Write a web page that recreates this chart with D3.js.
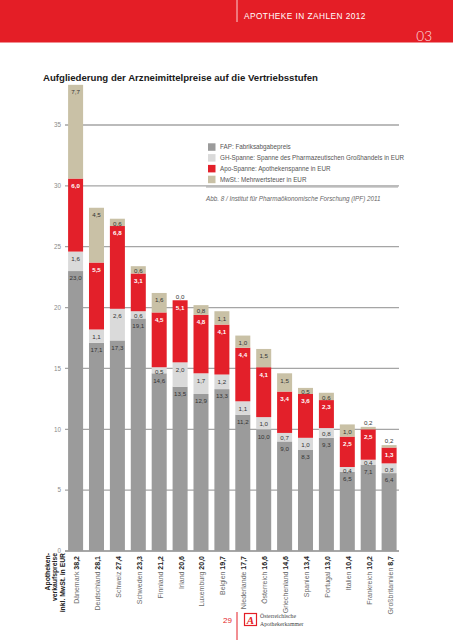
<!DOCTYPE html>
<html><head><meta charset="utf-8">
<script src="https://cdn.jsdelivr.net/npm/d3@7/dist/d3.min.js"></script>
<style>
html,body{margin:0;padding:0;background:#fff;}
svg{display:block;font-family:"Liberation Sans",Arial,Helvetica,sans-serif;}
</style></head>
<body>
<svg id="c" width="453" height="640"></svg>
<script>
const countries = ["Dänemark","Deutschland","Schweiz","Schweden","Finnland","Irland","Luxemburg","Belgien","Niederlande","Österreich","Griechenland","Spanien","Portugal","Italien","Frankreich","Großbritannien"];
const totals = ["38,2","28,1","27,4","23,3","21,2","20,6","20,0","19,7","17,7","16,6","14,6","13,4","13,0","10,4","10,2","8,7"];
const fap  = [23.0,17.1,17.3,19.1,14.6,13.5,12.9,13.3,11.2,10.0,9.0,8.3,9.3,6.5,7.1,6.4];
const gh   = [1.6,1.1,2.6,0.6,0.5,2.0,1.7,1.2,1.1,1.0,0.7,1.0,0.8,0.4,0.4,0.8];
const apo  = [6.0,5.5,6.8,3.1,4.5,5.1,4.8,4.1,4.4,4.1,3.4,3.6,2.3,2.5,2.5,1.3];
const mwst = [7.7,4.5,0.6,0.6,1.6,0.0,0.8,1.1,1.0,1.5,1.5,0.5,0.6,1.0,0.2,0.2];
const yTicks = [0,5,10,15,20,25,30,35];
const seriesKeys = ["fap","gh","apo","mwst"];
const legendLabels = ["FAP: Fabriksabgabepreis","GH-Spanne: Spanne des Pharmazeutischen Großhandels in EUR","Apo-Spanne: Apothekenspanne in EUR","MwSt.: Mehrwertsteuer in EUR"];
const colors = {fap:"#9b9b9b", gh:"#dadada", apo:"#e3202a", mwst:"#c9c1a6"};
const labelColors = {fap:"#333", gh:"#333", apo:"#fff", mwst:"#333"};

const rows = countries.map((c,i)=>({country:c, fap:fap[i], gh:gh[i], apo:apo[i], mwst:mwst[i]}));
const svg = d3.select("#c");
const red = "#e41e26";

// header
svg.append("rect").attr("x",0).attr("y",0).attr("width",453).attr("height",42.5).attr("fill",red);
svg.append("line").attr("x1",237).attr("x2",237).attr("y1",0).attr("y2",22).attr("stroke","#fff").attr("stroke-width",0.8);
svg.append("text").attr("x",244).attr("y",18.5).attr("fill","#fff").attr("font-size",8.3).attr("letter-spacing",0.45).text("APOTHEKE IN ZAHLEN 2012");
svg.append("text").attr("x",432).attr("y",41).attr("text-anchor","end").attr("fill","#fde4e4").attr("font-size",13.5).attr("font-family","Lato, 'Open Sans', sans-serif").attr("font-weight",300).text("03");

// title
svg.append("text").attr("x",43).attr("y",81).attr("font-size",9.2).attr("font-weight","bold").attr("fill","#1a1a1a")
  .attr("textLength",275).attr("lengthAdjust","spacingAndGlyphs")
  .text("Aufgliederung der Arzneimittelpreise auf die Vertriebsstufen");

// scales
const y = d3.scaleLinear().domain([0,35]).range([551,125]);
const x = d3.scaleBand().domain(countries).range([66,398.7]).paddingInner(0.282).paddingOuter(0.1);

// grid
const g = svg.append("g");
yTicks.forEach(t=>{
  g.append("line").attr("x1",65).attr("x2",399).attr("y1",y(t)).attr("y2",y(t))
   .attr("stroke", t===0 ? "#8a8a8a" : "#a5a5a5").attr("stroke-width", t===0?1.6:1.3);
  g.append("text").attr("x",61).attr("y",y(t)+2.3).attr("text-anchor","end").attr("font-size",6.3).attr("fill","#8a8a8a").text(t);
});

// bars
const stack = d3.stack().keys(seriesKeys)(rows);
const fmt = v => d3.format(".1f")(v).replace(".",",");
stack.forEach(layer=>{
  const k = layer.key;
  const lg = svg.append("g");
  layer.forEach((d,i)=>{
    const x0 = x(countries[i]);
    const top = y(d[1]), bot = y(d[0]);
    const h = bot-top;
    if (h>0) lg.append("rect").attr("x",x0).attr("y",top).attr("width",x.bandwidth()).attr("height",h).attr("fill",colors[k]);
    const v = d[1]-d[0];
    let cy;
    if (k==="fap") cy = top+7;
    else if (k==="mwst" && v<0.3) cy = top-4;
    else cy = top + Math.min(7, h/2+1);
    lg.append("text").attr("x",x0+x.bandwidth()/2).attr("y",cy+2.3).attr("text-anchor","middle")
      .attr("font-size",6.2).attr("fill",labelColors[k]).attr("font-weight", k==="apo"?"bold":"normal").text(fmt(v));
  });
});

// x labels (rotated)
countries.forEach((c,i)=>{
  const cx = x(c)+x.bandwidth()/2 + 3.5;
  const t = svg.append("text").attr("transform",`translate(${cx},556) rotate(-90)`).attr("text-anchor","end").attr("font-size",7);
  t.append("tspan").attr("fill","#6a6a6a").text(c+"  ");
  t.append("tspan").attr("fill","#222").attr("font-weight","bold").text(totals[i]);
});

// left axis label
["Apotheken-","verkaufspreise","inkl. MwSt. in EUR"].forEach((s,i)=>{
  svg.append("text").attr("transform",`translate(${49.5+i*7.6},553) rotate(-90)`).attr("text-anchor","end")
   .attr("font-size",6.8).attr("font-weight","bold").attr("fill","#222").text(s);
});

// legend
legendLabels.forEach((s,i)=>{
  const k = seriesKeys[i];
  const yy = 147 + i*10.8;
  svg.append("rect").attr("x",208).attr("y",yy-3.7).attr("width",7.5).attr("height",7.5).attr("fill",colors[k]);
  svg.append("text").attr("x",220).attr("y",yy+2.3).attr("font-size",6.3).attr("fill","#555").text(s);
});
svg.append("line").attr("x1",206).attr("x2",398).attr("y1",187).attr("y2",187).attr("stroke","#a5a5a5").attr("stroke-width",1);
svg.append("text").attr("x",206).attr("y",201).attr("font-size",6.3).attr("font-style","italic").attr("fill","#666")
  .text("Abb. 8 / Institut für Pharmaökonomische Forschung (IPF) 2011");

// footer
svg.append("text").attr("x",232).attr("y",623).attr("text-anchor","end").attr("font-size",8).attr("fill",red).text("29");
svg.append("line").attr("x1",237).attr("x2",237).attr("y1",612).attr("y2",640).attr("stroke",red).attr("stroke-width",1);
svg.append("rect").attr("x",244.5).attr("y",613.5).attr("width",12).attr("height",12).attr("fill","#fff").attr("stroke",red).attr("stroke-width",1.2);
svg.append("text").attr("x",250.5).attr("y",624).attr("text-anchor","middle").attr("font-size",11).attr("font-weight","bold").attr("font-style","italic").attr("font-family","'Liberation Serif',serif").attr("fill",red).text("A");
svg.append("text").attr("x",260).attr("y",618).attr("font-size",5.8).attr("font-family","'Liberation Serif','DejaVu Serif',serif").attr("fill","#444").text("Österreichische");
svg.append("text").attr("x",260).attr("y",625.5).attr("font-size",5.8).attr("font-family","'Liberation Serif','DejaVu Serif',serif").attr("fill","#444").text("Apothekerkammer");
</script>
</body></html>
